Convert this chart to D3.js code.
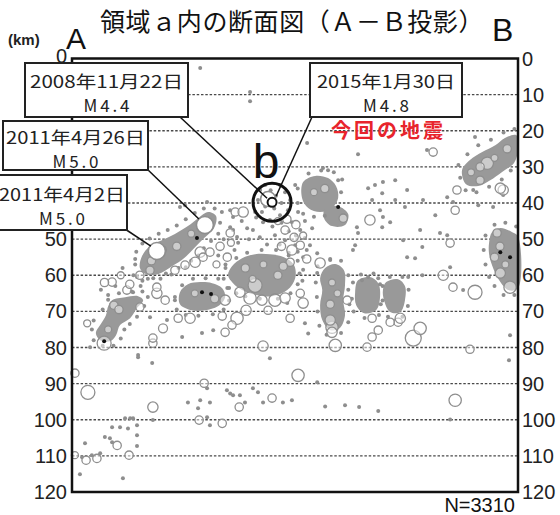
<!DOCTYPE html>
<html>
<head>
<meta charset="utf-8">
<script src="https://cdn.jsdelivr.net/npm/d3@7"></script>
<style>
  html, body { margin: 0; padding: 0; background: #fff; }
  svg { display: block; }
</style>
</head>
<body>
<svg id="chart" width="560" height="515"></svg>
<script>
// Depth tick values (km)
const depthTicks = [0, 10, 20, 30, 40, 50, 60, 70, 80, 90, 100, 110, 120];

// Annotated events
const eventDates = ["2008年11月22日", "2011年4月26日", "2011年4月2日", "2015年1月30日"];
const eventMags = [4.4, 5.0, 5.0, 4.8];
const eventDist = [54.3, 36.8, 23.5, 55.4];
const eventDepth = [38.9, 46.1, 53.3, 39.8];

// Dense hypocentre clusters, outlined as [distance, depth] vertices
const clusterDeepA = [[11.1,66.9],[14.7,66.1],[18.3,65.8],[19.7,66.9],[18.0,69.1],[16.1,71.9],[13.3,73.8],[12.2,76.6],[10.5,78.3],[7.8,78.0],[6.6,76.0],[7.8,73.8],[9.4,71.1],[10.0,68.6]];
const clusterSlab = [[18.8,58.0],[19.4,54.7],[21.6,51.9],[24.9,50.3],[28.5,48.6],[32.1,46.4],[34.9,44.2],[37.7,42.5],[39.9,43.6],[39.3,47.0],[36.6,49.7],[33.8,52.5],[31.0,55.3],[27.7,57.5],[23.8,59.7],[20.5,59.7]];
const cluster60 = [[43.2,60.0],[44.3,57.5],[47.1,55.3],[50.7,54.2],[54.8,54.2],[58.7,55.0],[61.5,57.2],[61.8,60.8],[59.6,64.1],[55.4,65.8],[51.0,65.5],[47.1,64.1],[44.6,62.2]];
const clusterMid = [[29.9,64.7],[32.1,62.5],[35.5,61.9],[38.8,62.2],[41.6,63.6],[42.4,66.1],[40.4,68.6],[36.8,69.7],[33.2,69.7],[29.9,68.0]];
const clusterV1 = [[70.1,58.0],[72.9,56.9],[75.3,58.6],[75.6,62.8],[75.1,66.9],[75.6,71.1],[74.2,74.6],[71.5,75.2],[69.3,72.4],[68.7,68.3],[69.3,64.1],[68.7,60.8]];
const clusterV2 = [[79.2,61.4],[82.5,60.5],[84.8,62.2],[85.3,66.1],[84.2,69.7],[80.9,70.5],[78.7,68.3],[78.4,64.7]];
const clusterV3 = [[87.0,61.9],[90.3,61.1],[92.2,63.0],[92.2,66.9],[90.9,70.2],[88.1,70.2],[86.4,66.9],[86.1,64.1]];
const clusterShallowB = [[108.0,30.9],[110.2,28.1],[113.6,25.9],[117.2,24.0],[119.9,22.0],[123.0,21.2],[123.5,25.3],[122.4,28.9],[119.1,31.4],[115.8,33.7],[112.5,35.3],[109.1,34.8]];
const clusterDeepB = [[116.3,48.1],[118.6,46.9],[121.9,48.1],[123.5,49.2],[123.5,63.6],[120.8,64.1],[118.3,61.4],[116.6,58.0],[115.5,54.2],[115.5,50.9]];
const clusterNearB = [[64.0,34.2],[67.3,32.5],[70.9,33.1],[73.1,35.3],[73.7,38.6],[72.0,41.4],[68.7,42.5],[65.4,41.4],[63.7,38.6]];
const clusterNearB2 = [[70.1,41.4],[73.7,40.9],[76.5,43.1],[75.6,46.1],[72.0,46.4],[69.8,44.2]];

// Small events (filled dots): [distance, depth]
const smallQuakes = [
  [35.5,2.6],[49.3,9.3],[49.3,11.8],[65.1,23.4],[79.2,26.5],[98.3,25.3],[111.6,21.7],
  [69.5,30.3],[70.9,30.9],[73.7,33.7],[82.0,35.9],[83.9,35.0],[86.1,34.2],[89.5,33.7],
  [92.8,36.4],[85.9,37.3],[83.1,39.2],[89.5,39.2],[97.2,39.2],[103.9,38.4],[105.5,39.7],
  [111.1,36.4],[112.5,40.6],[116.6,41.1],[119.4,37.8],[85.3,42.0],[86.1,43.9],[92.2,41.1],
  [88.1,45.3],[85.9,46.7],[78.9,46.7],[79.2,48.3],[96.4,47.5],[100.6,43.4],[101.9,48.3],
  [103.9,48.9],[91.7,50.3],[92.8,55.0],[95.0,55.3],[97.0,52.2],[78.4,51.7],[77.8,53.0],
  [104.7,57.8],[108.3,64.1],[82.0,60.5],[80.3,61.4],[84.8,60.8],[93.1,60.5],[97.0,60.0],
  [64.0,55.0],[67.9,53.9],[67.9,59.4],[71.5,55.8],[59.6,67.7],[64.5,73.3],[65.4,76.1],
  [121.3,76.6],[121.0,83.5],[67.9,89.6],[58.4,95.2],[60.9,94.6],[70.1,96.3],[75.6,96.0],
  [79.5,96.5],[84.8,97.6],[104.7,99.9],
  [5.0,79.9],[18.3,82.1],[22.2,84.3],[30.5,77.1],[36.0,76.0],[39.1,75.2],[54.8,83.0],
  [37.4,91.3],[42.9,91.8],[43.8,92.7],[44.6,93.2],[46.5,93.2],[47.9,95.2],[50.1,91.3],
  [51.5,92.4],[52.9,95.2],[32.1,95.2],[35.5,94.6],[38.2,95.2],[34.9,96.8],[37.4,99.3],
  [38.2,101.5],[14.7,99.6],[16.1,99.6],[16.9,99.6],[11.1,102.1],[13.3,102.1],[15.5,102.4],
  [18.0,101.5],[9.1,104.8],[10.5,105.1],[11.1,106.2],[18.0,104.3],[18.0,107.3],[3.6,106.5],
  [2.8,110.4],[5.5,109.8],[7.8,109.3],[2.2,115.1],[14.1,116.2],[22.4,100.1],
  [10.0,65.5],[16.9,64.7],[26.3,72.4],[21.6,71.6],[18.3,82.7],[28.5,66.9],
  [29.9,41.1],[31.3,40.6],[37.4,39.7],[43.8,42.0],[44.6,43.9],[50.7,42.5],[52.9,45.3],
  [43.8,46.7],[44.6,47.5],[45.7,49.4],[50.1,47.5],
  [52.1,36.4],[53.5,35.0],[57.6,35.0],[59.0,37.0],[60.4,39.2],[59.8,42.0],[57.6,43.4],
  [54.8,44.7],[52.6,42.5],[51.5,39.2],[61.8,35.0],[62.6,42.5],[60.9,45.3],[63.2,47.5],
  [64.5,49.7],[61.8,51.7],[59.0,50.3],[56.2,48.9],[65.9,51.7],
  [53,38],[55,36.5],[56.5,38],[58,40],[56,41.5],[53.5,41],[51,44],[55.5,46.5],[58,45.5],
  [60,47.8],[62,49],[57.5,51.5],[60,54.5],[62.5,53.5],[64.5,45],[66.5,47],[65,53],[47,45],
  [48.5,47],[46,51],[49,50],[52,49.5],[54,51.5],[42,50],[40.5,54.5],[45,53],[42.5,58],
  [8,64],[12,63],[17,60],[19,63],[14,58]
];

// Small events fringing the dense clusters: [distance, depth]
const fringeQuakes = [
  [17.5,57],[18,60.5],[19.5,61.5],[21,61],[22.5,60.8],[24.5,61],[26,59.5],[27.5,59.8],[29.5,58],[31.5,57.8],
  [33,56],[35,54.5],[36.5,52.5],[38.5,50.5],[40.5,48.5],[41,45.5],[41.5,42.5],[39.5,41.5],[36.5,41.5],[34,42.8],
  [31.5,44.5],[29,46.2],[26.5,47.5],[24,48.5],[21.5,49.8],[19.5,51.2],[17.8,53.5],[17.5,55.5],
  [42.5,57],[42,61],[43.5,63.5],[45.5,65],[48,65.8],[52,66.5],[57,66.5],[60.5,65],[62.5,62.5],[63,59.5],
  [62.5,56],[60,53.8],[56.5,53],[52.5,53],[48.5,53.8],[45.5,55.2],[64,58.5],[63.8,61.5],
  [68,57.5],[67.5,62],[67.8,66],[68,70],[68.5,74],[70.5,76.5],[74.5,76],[76.5,73],[76.8,68],[76.5,64],
  [76.5,60],[74.5,56],[71.5,55.5],
  [77.8,62],[77.5,66.5],[78,70],[81,71.8],[85,71],[86,67],[86,63],[83.5,59.5],[80,59.8],
  [85.3,62.5],[85.5,68],[87.5,71.5],[91.5,71.5],[93,68.5],[93.2,64],[91.5,60.5],[88,60.5],
  [28.5,66],[29,69.5],[31.5,71],[35,71.2],[39,70.8],[42,69.5],[43.5,67],[43,63.5],[40.5,61],[37,60.8],
  [33.5,61],[30.5,62.8],
  [6,72.5],[5.5,75],[6,78],[8.5,79.5],[11.5,79.5],[13.5,77.5],[14.5,75],[16,73.5],[18,71.5],[20,68.5],
  [21,66],[19.5,64.5],[16.5,64.5],[13,65],[10,66.8],[8.5,69.5],
  [107,29.5],[107.5,33],[109,36.5],[112,37],[115.5,35.5],[119,33.5],[121.5,31],[109.5,26.5],[112.5,24],
  [116,22.5],[119.5,20.5],[122.5,19.5],
  [114.5,49],[114,53],[114.5,57],[115.5,60.5],[117,63],[119.5,65.5],[122.5,65.5],[117,46],[120,45.5],[123,46.5],
  [62.5,36],[62.5,40],[64,43],[67,43.8],[70,43.5],[74.5,37],[74.8,33.5],[72.5,31.5],[69,31],[65.5,31.8]
];

// Larger events (open circles): [distance, depth, magnitude]
const largerQuakes = [
  [4.2,73.3,2.0],[8.9,78.8,4.1],[11.6,68.3,2.4],[18.8,68.8,2.4],[23.5,65.0,3.0],[25.2,74.7,2.6],
  [22.4,78.8,2.4],[22.4,77.4,2.4],[0.8,87.1,2.4],[4.4,92.4,4.1],[22.4,96.5,3.0],
  [42.4,75.8,2.4],[52.9,79.6,3.0],[36.6,89.9,2.4],[46.3,96.5,2.4],[55.4,94.0,2.4],
  [35.2,100.1,2.4],[41.6,101.0,2.4],[12.5,107.1,2.4],[15.8,109.8,2.4],[0.8,109.8,2.0],
  [3.9,111.2,2.4],[6.9,110.7,2.4],[72.0,74.4,3.6],[72.0,75.8,3.0],[84.8,75.2,2.4],
  [83.1,77.1,2.4],[81.7,79.9,2.4],[94.5,77.4,4.7],[96.4,74.7,3.6],[90.3,73.0,2.4],
  [110.2,80.5,2.4],[62.6,87.7,3.6],[106.1,94.6,3.6],[100.0,25.9,2.4],[113.0,33.7,2.4],
  [119.4,36.4,3.0],[115.0,29.0,3.6],[106.6,36.4,2.4],[118.6,35.9,3.0],[106.1,42.0,2.4],
  [75.1,44.2,2.4],[82.5,44.7,3.0],[104.7,51.1,2.4],[102.8,60.0,3.0],[105.5,63.3,2.4],
  [111.6,64.7,4.1],[118.6,59.4,3.0],[121.3,63.3,3.6],[117.7,48.3,2.4],[76.2,66.9,2.4],
  [68.7,56.6,3.0],[63.2,65.0,2.4],[64.0,67.7,3.0],[45.2,42.5,2.4],[47.4,42.5,3.0],
  [35.5,53.6,3.0],[36.3,55.0,2.4],[43.8,48.3,2.4],[11.1,61.9,2.4],[15.2,64.1,2.4],
  [23.5,63.3,2.4],[46.5,64.7,3.0],[49.3,66.3,3.6],[52.6,66.9,3.0],[56.2,66.9,3.6],
  [59.0,66.3,3.0],[50.7,62.8,4.1],[48.2,69.7,3.0],[54.3,69.7,2.4],[60.4,71.9,2.4],
  [42.4,66.9,3.0],[45.7,71.9,3.6],[44.3,73.8,2.4],[25.8,66.9,2.4],[29.4,71.9,2.4],
  [32.7,71.9,3.0],[41.6,71.3,2.4],[71.5,72.4,3.0],[72.9,79.4,3.6],[83.1,71.9,2.4],
  [88.1,73.0,2.4],[90.9,71.9,3.0],[59.0,47.5,2.4],[60.9,53.0,3.0],[63.2,51.7,2.4],
  [60.4,56.4,2.4],[28.5,58.6,2.4],[31.3,57.2,2.4],[34.1,56.4,3.0],[38.2,53.6,2.4],
  [21.6,58.6,2.4],[18.8,60.0,2.4],
  [25,53,2.4],[29,52,2.4],[33,48.5,2.0],[22,56,2.4],[48,58,2.4],[53,57,2.0],[57,60,2.4],
  [50,61,2.0],[58.5,57.5,2.4],[72,62,2.0],[71.5,68,2.4],[73.5,65,2.0],[113,30,2.4],
  [117,27.5,2.0],[120.5,25,2.4],[110.5,31.5,2.0],[118.5,52,2.4],[120,57,2.0],[117,55,2.4],
  [67,37,2.0],[70,36,2.4],[10,75,2.0],[13,69.5,2.4],[34,65,2.0],[39.5,66.5,2.4],
  [59.5,44.5,2.4],[62,46,2.4],[64,49,2.0],[61.5,49.5,2.4],[58,52,2.4],[65,55.5,2.4],[57,45,2.0],
  [41,52,2.4],[43,55,2.4],[40,57,2.0],[44,51,2.0],[9,62,2.4],[13.5,60,2.0],[16,62.5,2.4]
];

// Events plotted in black: [distance, depth]
const darkQuakes = [[8.9,78.3],[36.0,64.7],[38.5,65.2],[73.7,41.1],[118.6,53.6],[121.3,55.0],[34.6,49.7]];

const totalCount = 3310;

// ---------------------------------------------------------------
const svg = d3.select("#chart");
const plotL = 72, plotR = 518, plotT = 58.5, plotB = 492;

const x = d3.scaleLinear().domain([0, 123.5]).range([plotL, plotR]);
const y = d3.scaleLinear().domain([0, 120]).range([plotT, plotB]);
const r = d3.scaleLinear().domain([2, 5]).range([3.5, 8.5]);

const grey = "#8e8e8e";

// dotted depth grid
svg.append("g")
  .selectAll("line")
  .data(depthTicks.filter(d => d > 0 && d < 120))
  .join("line")
  .attr("x1", plotL).attr("x2", plotR)
  .attr("y1", d => y(d)).attr("y2", d => y(d))
  .attr("stroke", "#4a4a4a")
  .attr("stroke-width", 1.3)
  .attr("stroke-dasharray", "2.5,1.8");

// dense clusters
const outline = d3.line().x(p => x(p[0])).y(p => y(p[1])).curve(d3.curveCatmullRomClosed.alpha(0.5));
const clusters = [clusterDeepA, clusterSlab, cluster60, clusterMid, clusterV1, clusterV2, clusterV3,
                  clusterShallowB, clusterDeepB, clusterNearB, clusterNearB2];
svg.append("g")
  .selectAll("path")
  .data(clusters)
  .join("path")
  .attr("d", outline)
  .attr("fill", "#999");

// small events
svg.append("g")
  .selectAll("circle")
  .data(smallQuakes.concat(fringeQuakes))
  .join("circle")
  .attr("cx", d => x(d[0])).attr("cy", d => y(d[1]))
  .attr("r", 2)
  .attr("fill", grey);

// larger events as open circles
svg.append("g")
  .selectAll("circle")
  .data(largerQuakes)
  .join("circle")
  .attr("cx", d => x(d[0])).attr("cy", d => y(d[1]))
  .attr("r", d => r(d[2]))
  .attr("fill", "#fff")
  .attr("fill-opacity", 0.5)
  .attr("stroke", grey)
  .attr("stroke-width", 1.3);

// black events
svg.append("g")
  .selectAll("circle")
  .data(darkQuakes)
  .join("circle")
  .attr("cx", d => x(d[0])).attr("cy", d => y(d[1]))
  .attr("r", 2)
  .attr("fill", "#111");

// annotated events (the earlier three drawn as grey rings)
const events = eventDates.map((date, i) => ({ date, mag: eventMags[i], d: eventDist[i], z: eventDepth[i] }));
svg.append("g")
  .selectAll("circle")
  .data(events.slice(0, 3))
  .join("circle")
  .attr("cx", e => x(e.d)).attr("cy", e => y(e.z))
  .attr("r", e => r(e.mag))
  .attr("fill", "#fff")
  .attr("stroke", grey)
  .attr("stroke-width", 1.6);

// frame
svg.append("path")
  .attr("d", `M${plotL},${plotT} H${plotR} V${plotB} H${plotL} Z`)
  .attr("fill", "none")
  .attr("stroke", "#111")
  .attr("stroke-width", 2.5);

// depth labels; on the left, 10–40 sit under the label boxes
const tickFont = "'Liberation Sans', Arial, sans-serif";
svg.append("g")
  .selectAll("text")
  .data(depthTicks.filter(d => d === 0 || d >= 50))
  .join("text")
  .attr("x", 67).attr("y", d => y(d) - (d === 0 ? 3 : 0))
  .attr("text-anchor", "end")
  .attr("dominant-baseline", "central")
  .attr("font-family", tickFont).attr("font-size", 20).attr("fill", "#222")
  .text(d => d);
svg.append("g")
  .selectAll("text")
  .data(depthTicks)
  .join("text")
  .attr("x", 522).attr("y", d => y(d))
  .attr("text-anchor", "start")
  .attr("dominant-baseline", "central")
  .attr("font-family", tickFont).attr("font-size", 20).attr("fill", "#222")
  .text(d => d);

// title and axis names
const cjk = "'Noto Sans CJK JP', 'Noto Sans', sans-serif";
svg.append("text").attr("x", 100).attr("y", 31)
  .attr("font-family", cjk).attr("font-size", 25).attr("fill", "#111")
  .attr("letter-spacing", 0.6)
  .text("領域ａ内の断面図（Ａ－Ｂ投影）");
svg.append("text").attr("x", 8).attr("y", 45)
  .attr("font-family", tickFont).attr("font-size", 15).attr("font-weight", "bold").attr("fill", "#222")
  .text("(km)");
svg.append("text").attr("x", 66).attr("y", 49)
  .attr("font-family", tickFont).attr("font-size", 30).attr("fill", "#111").text("A");
svg.append("text").attr("x", 492).attr("y", 41)
  .attr("font-family", tickFont).attr("font-size", 32).attr("fill", "#111").text("B");
svg.append("text").attr("x", 515).attr("y", 512)
  .attr("text-anchor", "end")
  .attr("font-family", tickFont).attr("font-size", 20).attr("fill", "#111")
  .text("N=" + totalCount);

// highlight of the latest event
const latest = events[3];
const bx = x(latest.d), by = y(latest.z);

// label boxes with leader lines
const boxes = [
  { i: 0, x0: 25, y0: 63, w: 163, h: 54, tl: 153, lx: 180, ly: 117, tx: bx - 5, ty: by - 4 },
  { i: 3, x0: 310, y0: 63, w: 152, h: 54, tl: 138, lx: 312, ly: 117, tx: bx + 4, ty: by - 6 },
  { i: 1, x0: 3, y0: 121, w: 145, h: 49, tl: 139, lx: 146, ly: 168, tx: x(eventDist[1]) - 6, ty: y(eventDepth[1]) - 6 },
  { i: 2, x0: -3, y0: 175, w: 130, h: 55, tl: 126, lx: 125, ly: 229, tx: x(eventDist[2]) - 6, ty: y(eventDepth[2]) - 5 }
];
const lg = svg.append("g");
boxes.forEach(b => {
  lg.append("line").attr("x1", b.lx).attr("y1", b.ly).attr("x2", b.tx).attr("y2", b.ty)
    .attr("stroke", "#111").attr("stroke-width", 1.5);
});
boxes.forEach(b => {
  const e = events[b.i];
  const cx = b.x0 + b.w / 2;
  const mid = b.y0 + b.h / 2;
  lg.append("rect").attr("x", b.x0).attr("y", b.y0).attr("width", b.w).attr("height", b.h)
    .attr("fill", "#fff").attr("stroke", "#222").attr("stroke-width", 2);
  lg.append("text").attr("x", cx - b.tl / 2).attr("y", mid - 2)
    .attr("textLength", b.tl).attr("lengthAdjust", "spacingAndGlyphs")
    .attr("font-family", cjk).attr("font-size", 17).attr("fill", "#222")
    .text(e.date);
  lg.append("text").attr("x", cx - 23).attr("y", mid + 22)
    .attr("textLength", 46).attr("lengthAdjust", "spacing")
    .attr("font-family", cjk).attr("font-size", 17).attr("fill", "#222")
    .text("M" + e.mag.toFixed(1));
});

svg.append("circle").attr("cx", bx).attr("cy", by).attr("r", 19)
  .attr("fill", "none").attr("stroke", "#111").attr("stroke-width", 3);
svg.append("circle").attr("cx", bx).attr("cy", by).attr("r", 4.5)
  .attr("fill", "#fff").attr("stroke", "#111").attr("stroke-width", 2);
svg.append("text").attr("x", bx - 6).attr("y", by - 24)
  .attr("text-anchor", "middle")
  .attr("font-family", tickFont).attr("font-size", 48).attr("fill", "#111").text("b");

svg.append("text").attr("x", 331).attr("y", 138)
  .attr("font-family", cjk).attr("font-size", 20).attr("font-weight", "bold").attr("fill", "#e8242c")
  .attr("letter-spacing", 3)
  .text("今回の地震");
</script>
</body>
</html>
